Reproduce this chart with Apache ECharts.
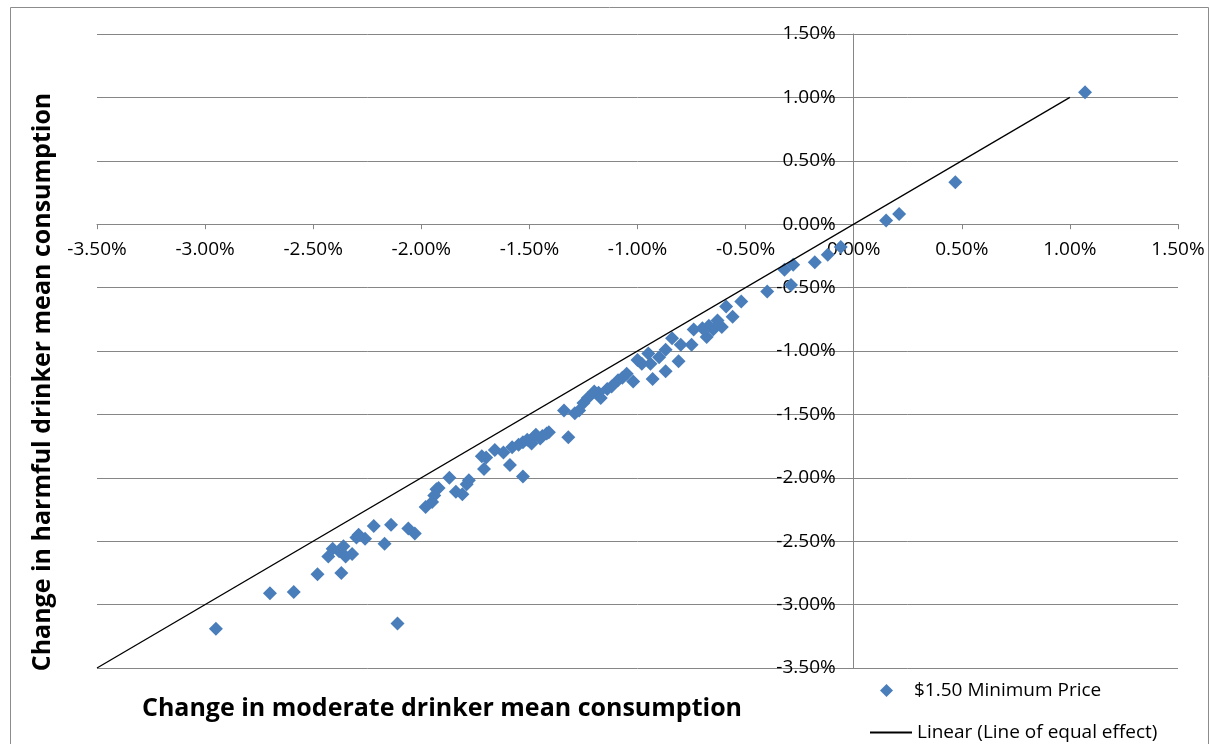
<!DOCTYPE html>
<html>
<head>
<meta charset="utf-8">
<script src="https://cdn.jsdelivr.net/npm/echarts@6/dist/echarts.min.js"></script>
<style>
html,body{margin:0;padding:0;background:#fff;}
#chart{width:1210px;height:744px;}
</style>
</head>
<body>
<div id="chart"></div>
<script>
// Data (percent)
var moderateChange = [-2.95,-2.70,-2.59,-2.48,-2.37,-2.43,-2.41,-2.38,-2.36,-2.35,-2.32,-2.30,-2.29,-2.26,-2.22,-2.17,-2.14,-2.11,-2.06,-2.03,
  -1.98,-1.95,-1.94,-1.93,-1.92,-1.87,-1.84,-1.81,-1.79,-1.78,-1.72,-1.71,-1.70,-1.66,-1.62,-1.59,-1.58,-1.55,-1.53,-1.53,
  -1.51,-1.49,-1.48,-1.47,-1.45,-1.44,-1.42,-1.41,-1.34,-1.32,-1.29,-1.27,-1.25,-1.23,-1.20,-1.18,-1.17,-1.14,-1.12,-1.09,
  -1.07,-1.05,-1.02,-1.00,-0.98,-0.95,-0.94,-0.93,-0.90,-0.87,-0.87,-0.84,-0.81,-0.80,-0.75,-0.74,-0.70,-0.68,-0.67,-0.65,
  -0.63,-0.61,-0.59,-0.56,-0.52,-0.40,-0.32,-0.29,-0.28,-0.18,-0.12,-0.06,0.15,0.21,0.47,1.07];
var harmfulChange = [-3.19,-2.91,-2.90,-2.76,-2.75,-2.62,-2.56,-2.58,-2.54,-2.62,-2.60,-2.47,-2.45,-2.48,-2.38,-2.52,-2.37,-3.15,-2.40,-2.44,
  -2.23,-2.19,-2.14,-2.09,-2.08,-2.00,-2.11,-2.13,-2.05,-2.02,-1.83,-1.93,-1.84,-1.78,-1.80,-1.90,-1.76,-1.74,-1.99,-1.72,
  -1.70,-1.73,-1.68,-1.66,-1.69,-1.67,-1.65,-1.64,-1.47,-1.68,-1.49,-1.47,-1.41,-1.37,-1.32,-1.33,-1.37,-1.30,-1.28,-1.23,
  -1.21,-1.18,-1.24,-1.07,-1.10,-1.02,-1.10,-1.22,-1.05,-1.16,-0.99,-0.90,-1.08,-0.95,-0.95,-0.83,-0.82,-0.89,-0.80,-0.83,
  -0.76,-0.81,-0.65,-0.73,-0.61,-0.53,-0.36,-0.48,-0.32,-0.30,-0.24,-0.18,0.03,0.08,0.33,1.04];
var equalLineX = [-3.5, 1.0];
var equalLineY = [-3.5, 1.0];
var axisMin = -3.5, axisMax = 1.5, axisStep = 0.5;
var scatterName = '$1.50 Minimum Price';
var lineName = 'Linear (Line of equal effect)';
var xTitle = 'Change in moderate drinker mean consumption';
var yTitle = 'Change in harmful drinker mean consumption';

var scatterData = moderateChange.map(function(x,i){return [x, harmfulChange[i]];});
var lineData = equalLineX.map(function(x,i){return [x, equalLineY[i]];});

var FONT = 'Open Sans';
function pct(v){ return (Math.round(v*100)/100).toFixed(2) + '%'; }

// layout
var GL = 97, GR = 32, GT = 34, GB = 76, W = 1210, H = 744;
var gw = W - GL - GR, gh = H - GT - GB;
// offsets so that label-only axes sit on the zero lines
var xLabelOffset = -gh * (0 - axisMin) / (axisMax - axisMin);
var yLabelOffset = -gw * (0 - axisMin) / (axisMax - axisMin);

var AXC = '#868686';
var chart = echarts.init(document.getElementById('chart'), null, {renderer:'canvas'});
chart.setOption({
  animation:false,
  backgroundColor:'#fff',
  textStyle:{fontFamily:FONT},
  grid:{left:GL, right:GR, top:GT, bottom:GB, containLabel:false},
  xAxis:[{
    type:'value', min:axisMin, max:axisMax, interval:axisStep,
    axisLine:{onZero:true, lineStyle:{color:AXC, width:1}},
    axisTick:{show:true, length:5, lineStyle:{color:AXC}},
    axisLabel:{show:false},
    splitLine:{show:false}
  },{
    type:'value', min:axisMin, max:axisMax, interval:axisStep, position:'bottom', offset:xLabelOffset,
    axisLine:{show:false}, axisTick:{show:false}, splitLine:{show:false},
    axisLabel:{formatter:pct, color:'#000', fontSize:19, margin:16, fontFamily:FONT}
  }],
  yAxis:[{
    type:'value', min:axisMin, max:axisMax, interval:axisStep,
    axisLine:{onZero:true, lineStyle:{color:AXC, width:1}},
    axisTick:{show:true, length:5, lineStyle:{color:AXC}},
    axisLabel:{show:false},
    splitLine:{show:true, lineStyle:{color:AXC, width:1}}
  },{
    type:'value', min:axisMin, max:axisMax, interval:axisStep, position:'left', offset:yLabelOffset,
    axisLine:{show:false}, axisTick:{show:false}, splitLine:{show:false},
    axisLabel:{formatter:pct, color:'#000', fontSize:19, margin:18, fontFamily:FONT}
  }],
  legend:[
    {data:[scatterName], left:875, top:676, icon:'diamond', itemWidth:13, itemHeight:13,
     textStyle:{fontSize:19, color:'#000', fontFamily:FONT, padding:[0,0,0,16]}},
    {data:[lineName], left:865, top:718, icon:'path://M0,0 L40,0 L40,1 L0,1 Z', itemWidth:42, itemHeight:2, symbolKeepAspect:false,
     textStyle:{fontSize:19, color:'#000', fontFamily:FONT}}
  ],
  series:[
    {name:scatterName, type:'scatter', symbol:'diamond', symbolSize:14, data:scatterData,
     xAxisIndex:0, yAxisIndex:0, itemStyle:{color:'#4A7EBB', opacity:1}, z:3},
    {name:lineName, type:'line', data:lineData, symbol:'none', showSymbol:false,
     xAxisIndex:0, yAxisIndex:0, lineStyle:{color:'#000', width:1.3}, itemStyle:{color:'#000'}, z:4}
  ],
  graphic:[
    {type:'rect', shape:{x:10.5, y:7.5, width:1198, height:760}, style:{fill:'none', stroke:'#8c8c8c', lineWidth:1}, silent:true},
    {type:'text', x:442, y:709, style:{text:xTitle, font:'bold 25px "Open Sans"', fill:'#000', align:'center', verticalAlign:'middle'}},
    {type:'text', x:43, y:382, rotation:Math.PI/2, style:{text:yTitle, font:'bold 25px "Open Sans"', fill:'#000', align:'center', verticalAlign:'middle'}}
  ]
});
</script>
</body>
</html>
